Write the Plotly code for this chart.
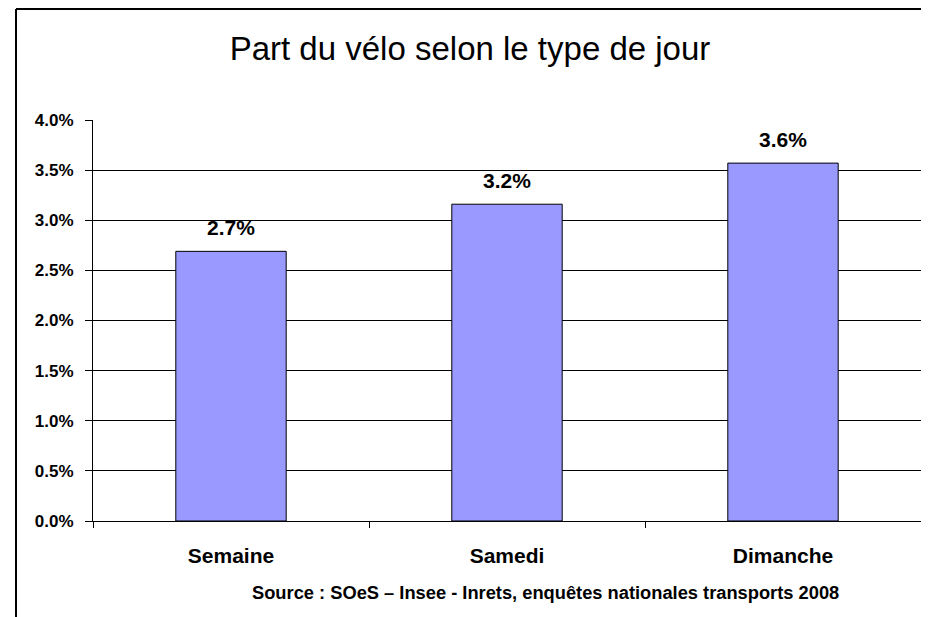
import plotly.graph_objects as go

categories = ["Semaine", "Samedi", "Dimanche"]
values = [0.0269, 0.0316, 0.0357]
y_ticks = [0, 0.005, 0.01, 0.015, 0.02, 0.025, 0.03, 0.035, 0.04]
title_text = "Part du vélo selon le type de jour"
source_text = "Source : SOeS – Insee - Inrets, enquêtes nationales transports 2008"

# the page adds an 8px body margin, so the figure is drawn 8px in
OFF = 8
W, H = 929 - OFF, 617 - OFF
L, R, T, B = 93 - OFF, 8, 120 - OFF, 96
pw, ph = W - L - R, H - T - B

def px(x):
    return (x - OFF - L) / pw

def py(y):
    return (H - B - (y - OFF)) / ph

font = "Liberation Sans, Arial, sans-serif"

fig = go.Figure()
fig.add_trace(go.Bar(
    x=categories, y=values, width=0.4,
    marker=dict(color="#9999FF", line=dict(color="black", width=1)),
    hoverinfo="skip",
))

annotations = []
for c, v in zip(categories, values):
    annotations.append(dict(
        x=c, y=v, xref="x", yref="y", text="<b>%.1f%%</b>" % (round(v * 100, 1)),
        showarrow=False, yanchor="bottom", yshift=10,
        font=dict(family=font, size=21, color="black"),
    ))
annotations.append(dict(
    x=px(545), y=py(592), xref="paper", yref="paper", text="<b>" + source_text + "</b>",
    showarrow=False, xanchor="center", yanchor="middle",
    font=dict(family=font, size=18.3, color="black"),
))

shapes = [
    dict(type="line", xref="paper", yref="paper", x0=px(16), x1=px(940), y0=py(9), y1=py(9),
         line=dict(color="black", width=2)),
    dict(type="line", xref="paper", yref="paper", x0=px(16), x1=px(16), y0=py(9), y1=py(630),
         line=dict(color="black", width=2)),
]

fig.update_layout(
    width=W, height=H,
    margin=dict(l=L, r=R, t=T, b=B),
    paper_bgcolor="white", plot_bgcolor="white",
    showlegend=False,
    title=dict(text=title_text, xref="container", x=(470 - OFF) / W, xanchor="center",
               yref="container", y=1 - (48 - OFF) / H, yanchor="middle",
               font=dict(family=font, size=33, color="black")),
    xaxis=dict(
        type="category", tickson="boundaries", ticks="outside", ticklen=6, tickcolor="black",
        showline=True, linecolor="black", linewidth=1, showgrid=False,
        tickfont=dict(family=font, size=21, color="black", weight="bold"),
        ticklabelstandoff=16,
    ),
    yaxis=dict(
        range=[0, 0.04], tickvals=y_ticks, tickformat=".1%",
        ticks="outside", ticklen=7, tickcolor="black",
        showline=True, linecolor="black", linewidth=1,
        showgrid=True, gridcolor="black", gridwidth=1, zeroline=False,
        tickfont=dict(family=font, size=17, color="black", weight="bold"),
        ticklabelstandoff=8,
    ),
    annotations=annotations,
    shapes=shapes,
)

fig.write_html("out.html")
